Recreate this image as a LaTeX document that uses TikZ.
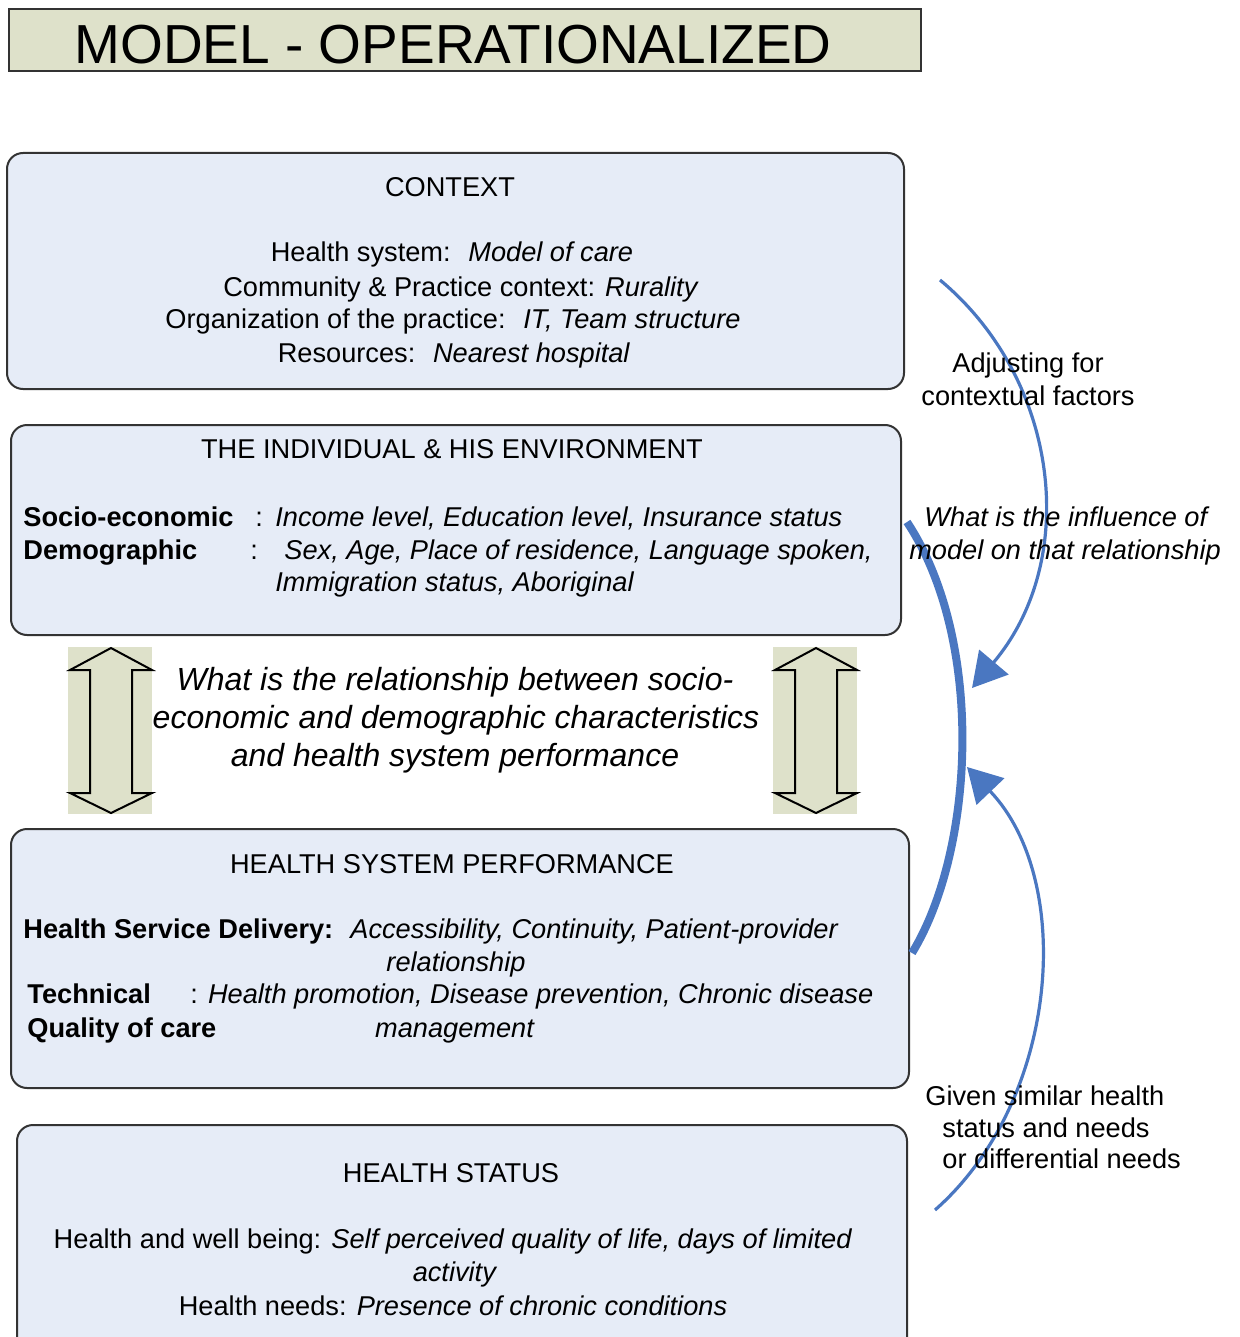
\documentclass[tikz,border=0pt]{standalone}
\usepackage{fontspec}
\setmainfont{Liberation Sans}
\usetikzlibrary{arrows.meta}

\definecolor{panelblue}{HTML}{E6ECF7}
\definecolor{khaki}{HTML}{DEE1CA}
\definecolor{arcblue}{HTML}{4A77C1}

\tikzset{
  panel/.style={draw=black!80, line width=1pt, fill=panelblue, rounded corners=8pt,
    inner sep=0pt, anchor=north west},
  txt/.style={inner sep=0pt, font=\fontsize{13.6}{16}\selectfont},
  ctr/.style={txt, anchor=base},
  lft/.style={txt, anchor=base west},
  question/.style={inner sep=0pt, anchor=base, font=\fontsize{16}{19}\selectfont\itshape},
  thinarc/.style={draw=arcblue, line width=1.6pt, -{Triangle[length=17pt,width=19pt]}},
  thickarc/.style={draw=arcblue, line width=4pt},
}

\begin{document}
\begin{tikzpicture}[x=0.5pt,y=-0.5pt]
  \useasboundingbox (0,0) rectangle (1239,1337);

  % title
  \node[draw=black!80, line width=1.2pt, fill=khaki, anchor=north west, inner sep=0pt,
    minimum width=456pt, minimum height=31pt] (title) at (8,8) {};
  \node[inner sep=0pt, anchor=base, font=\fontsize{27.5}{30}\selectfont] (titletext) at (453,64)
    {MODEL - OPERATIONALIZED};

  % the four panels
  \node[panel, minimum width=448.5pt, minimum height=118pt] (context) at (6,152) {};
  \node[panel, minimum width=445pt, minimum height=105pt] (individual) at (10,424) {};
  \node[panel, minimum width=449pt, minimum height=129.5pt] (performance) at (10,828) {};
  \node[panel, minimum width=445pt, minimum height=115pt] (status) at (16,1124) {};

  % context
  \node[ctr] (ctxhead) at (450,197) {CONTEXT};
  \node[ctr] (ctx1) at (452,262) {Health system: \ \textit{Model of care}};
  \node[ctr] (ctx2) at (461,296) {Community \& Practice context: \textit{Rurality}};
  \node[ctr] (ctx3) at (453,328) {Organization of the practice: \ \textit{IT, Team structure}};
  \node[ctr] (ctx4) at (454,362) {Resources: \ \textit{Nearest hospital}};

  % individual
  \node[ctr] (indhead) at (452,458) {THE INDIVIDUAL \& HIS ENVIRONMENT};
  \node[lft] (socio) at (23,526) {\textbf{Socio-economic}};
  \node[lft] (sociocol) at (255,526) {:};
  \node[lft] (socioval) at (275,526) {\textit{Income level, Education level, Insurance status}};
  \node[lft] (demo) at (23,559) {\textbf{Demographic}};
  \node[lft] (democol) at (250,559) {:};
  \node[lft] (demoval) at (284,559) {\textit{Sex, Age, Place of residence, Language spoken,}};
  \node[lft] (demoval2) at (275,591) {\textit{Immigration status, Aboriginal}};

  % question between the panels
  \foreach \xo in {0,705} {
    \fill[khaki] (68+\xo,647) rectangle (152+\xo,814);
    \draw[line width=1pt] (111+\xo,648) -- (152+\xo,670) -- (132+\xo,670) -- (132+\xo,793)
      -- (152+\xo,793) -- (111+\xo,813) -- (70+\xo,793) -- (90+\xo,793) -- (90+\xo,670)
      -- (70+\xo,670) -- cycle;
  }
  \node[question] (rel1) at (455,690) {What is the relationship between socio-};
  \node[question] (rel2) at (456,728) {economic and demographic characteristics};
  \node[question] (rel3) at (455,766) {and health system performance};

  % performance
  \node[ctr] (perfhead) at (452,873) {HEALTH SYSTEM PERFORMANCE};
  \node[lft] (delivery) at (23,938) {\textbf{Health Service Delivery:}};
  \node[lft] (deliveryval) at (350,938) {\textit{Accessibility, Continuity, Patient-provider}};
  \node[ctr] (deliveryval2) at (456,971) {\textit{relationship}};
  \node[lft] (technical) at (27,1003) {\textbf{Technical}};
  \node[lft] (technicalval) at (190,1003) {: \textit{Health promotion, Disease prevention, Chronic disease}};
  \node[lft] (quality) at (27,1037) {\textbf{Quality of care}};
  \node[ctr] (qualityval) at (455,1037) {\textit{management}};

  % health status
  \node[ctr] (stathead) at (451,1182) {HEALTH STATUS};
  \node[ctr] (stat1) at (453,1248) {Health and well being: \textit{Self perceived quality of life, days of limited}};
  \node[ctr] (stat2) at (455,1281) {\textit{activity}};
  \node[ctr] (stat3) at (453,1315) {Health needs: \textit{Presence of chronic conditions}};

  % arcs on the right
  \coordinate (adjfrom) at (940,280);
  \coordinate (adjto) at (972,688);
  \coordinate (givenfrom) at (935,1210);
  \coordinate (givento) at (967,767);
  \coordinate (modfrom) at (907,522);
  \coordinate (modto) at (912,953);
  \draw[thickarc] (modfrom) .. controls (985,640) and (975,850) .. (modto);
  \draw[thinarc] (adjfrom) .. controls (1060,380) and (1080,560) .. (adjto);
  \draw[thinarc] (givenfrom) .. controls (1060,1100) and (1075,880) .. (givento);

  \node[ctr] (adj1) at (1028,372) {Adjusting for};
  \node[ctr] (adj2) at (1028,405) {contextual factors};
  \node[ctr] (infl1) at (1067,526) {\textit{What is the influence of}};
  \node[ctr] (infl2) at (1065,559) {\textit{model on that relationship}};
  \node[lft] (given1) at (925,1105) {Given similar health};
  \node[lft] (given2) at (942,1137) {status and needs};
  \node[lft] (given3) at (942,1168) {or differential needs};
\end{tikzpicture}
\end{document}
